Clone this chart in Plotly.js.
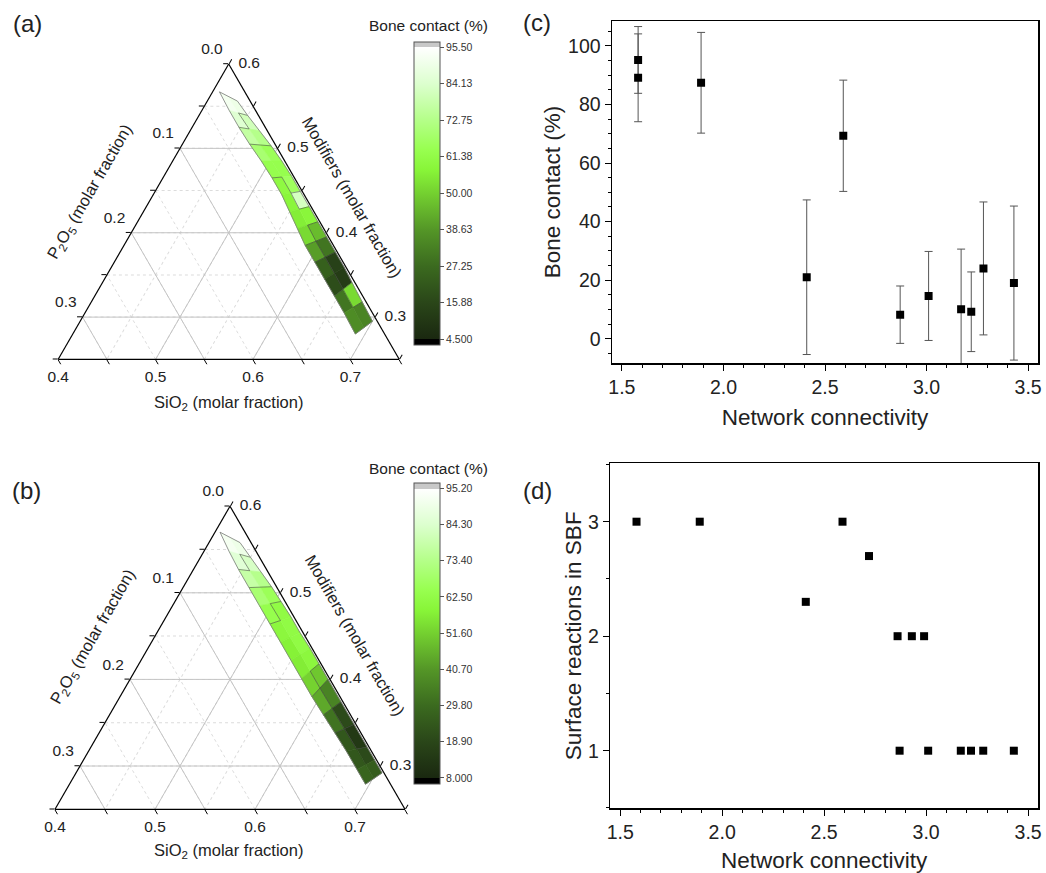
<!DOCTYPE html>
<html><head><meta charset="utf-8">
<script src="https://cdn.plot.ly/plotly-3.0.1.min.js"></script>
<style>html,body{margin:0;padding:0;background:#fff}#chart{width:1046px;height:873px}</style>
</head><body><div id="chart"></div>
<script>
// ================= DATA =================
// (c) bone contact vs network connectivity
const ncC = [1.58, 1.58, 1.89, 2.41, 2.59, 2.87, 3.01, 3.17, 3.22, 3.28, 3.43];
const boneC = [95.2, 89.1, 87.4, 21.0, 69.3, 8.2, 14.6, 10.1, 9.2, 24.0, 19.0];
const boneErr = [11.4, 15.0, 17.2, 26.4, 19.0, 9.8, 15.2, 20.5, 13.6, 22.7, 26.3];
// (d) surface reactions in SBF vs network connectivity
const ncD = [1.58, 1.89, 2.41, 2.59, 2.72, 2.86, 2.93, 2.99, 2.87, 3.01, 3.17, 3.22, 3.28, 3.43];
const sbfD = [3, 3, 2.3, 3, 2.7, 2, 2, 2, 1, 1, 1, 1, 1, 1];

// ternary ticks (axis a = Modifiers, b = P2O5, c = SiO2)
const modTicks = [0.25, 0.3, 0.35, 0.4, 0.45, 0.5, 0.55, 0.6];
const pTicks = [0, 0.05, 0.1, 0.15, 0.2, 0.25, 0.3, 0.35];
const siTicks = [0.4, 0.45, 0.5, 0.55, 0.6, 0.65, 0.7, 0.75];
const leftLabelP = [0.0, 0.1, 0.2, 0.3];      // P2O5 labels along left edge
const bottomLabelSi = [0.4, 0.5, 0.6, 0.7];   // SiO2 labels along bottom edge
const rightLabelMod = [0.6, 0.5, 0.4, 0.3];   // Modifier labels along right edge
const majorMod = [0.3, 0.4, 0.5];
const majorP = [0.1, 0.2, 0.3];
const majorSi = [0.5, 0.6, 0.7];

// (a) contour band: boundary compositions (Modifiers, P2O5) and bone contact per cell (left/right half)
const bandA_leftMod  = [0.567, 0.545, 0.525, 0.505, 0.485, 0.465, 0.445, 0.425, 0.405, 0.385, 0.365, 0.345, 0.325, 0.305, 0.280];
const bandA_leftP    = [0.026, 0.027, 0.027, 0.026, 0.024, 0.023, 0.023, 0.025, 0.027, 0.029, 0.029, 0.029, 0.029, 0.029, 0.030];
const bandA_rightMod = [0.556, 0.539, 0.521, 0.503, 0.485, 0.467, 0.449, 0.431, 0.413, 0.395, 0.377, 0.359, 0.341, 0.318, 0.295];
const bandA_rightP   = [0.013, 0.011, 0.008, 0.005, 0.003, 0.002, 0.002, 0.002, 0.002, 0.002, 0.002, 0.002, 0.003, 0.004, 0.005];
const bcA_left  = [92, 85, 77, 69, 63, 60, 58, 56, 52, 40, 24, 18, 30, 36];
const bcA_right = [90, 81, 73, 65, 63, 66, 82, 58, 46, 30, 14, 12, 52, 34];
const levelsA = [4.5, 15.88, 27.25, 38.63, 50.0, 61.38, 72.75, 84.13, 95.5];
const levelTextA = ['4.500', '15.88', '27.25', '38.63', '50.00', '61.38', '72.75', '84.13', '95.50'];

// (b) contour band
const bandB_leftMod  = [0.570, 0.548, 0.527, 0.506, 0.485, 0.464, 0.443, 0.422, 0.401, 0.380, 0.359, 0.338, 0.317, 0.296, 0.279];
const bandB_leftP    = [0.025, 0.027, 0.028, 0.028, 0.028, 0.028, 0.028, 0.028, 0.028, 0.028, 0.027, 0.026, 0.025, 0.025, 0.025];
const bandB_rightMod = [0.558, 0.541, 0.524, 0.507, 0.490, 0.472, 0.454, 0.436, 0.418, 0.400, 0.374, 0.348, 0.322, 0.307, 0.292];
const bandB_rightP   = [0.011, 0.009, 0.007, 0.005, 0.004, 0.003, 0.003, 0.002, 0.002, 0.002, 0.002, 0.002, 0.002, 0.002, 0.002];
const bcB_left  = [92, 86, 78, 70, 64, 60, 58, 57, 52, 44, 32, 24, 24, 28];
const bcB_right = [90, 83, 74, 66, 62, 62, 62, 60, 50, 36, 20, 14, 20, 26];
const levelsB = [8.0, 18.9, 29.8, 40.7, 51.6, 62.5, 73.4, 84.3, 95.2];
const levelTextB = ['8.000', '18.90', '29.80', '40.70', '51.60', '62.50', '73.40', '84.30', '95.20'];

// colour map (fraction of level range -> colour)
const mapStops = [[0, '#1a2810'], [0.125, '#2a4619'], [0.25, '#3b6a1f'], [0.375, '#549627'], [0.5, '#74d030'],
                  [0.58, '#88f538'], [0.65, '#98ff50'], [0.75, '#b4ff88'], [0.875, '#dcffce'], [1, '#ffffff']];

// ================= HELPERS =================
const FONT = 'Liberation Sans, Arial, Helvetica, sans-serif';
const W = 1046, H = 873;
const PX = x => x / W, PY = y => 1 - y / H;
const r6 = v => Math.round(v * 1e6) / 1e6;

function hex2rgb(h) { return [parseInt(h.substr(1, 2), 16), parseInt(h.substr(3, 2), 16), parseInt(h.substr(5, 2), 16)]; }
function colorAt(f) {
  f = Math.max(0, Math.min(1, f));
  for (let i = 1; i < mapStops.length; i++) {
    if (f <= mapStops[i][0]) {
      const [f0, c0] = mapStops[i - 1], [f1, c1] = mapStops[i];
      const t = (f - f0) / (f1 - f0), a = hex2rgb(c0), b = hex2rgb(c1);
      return 'rgb(' + a.map((v, k) => Math.round(v + (b[k] - v) * t)).join(',') + ')';
    }
  }
  return mapStops[mapStops.length - 1][1];
}
function extScale(start, end, cmin, cmax) {
  const tot = cmax - cmin, f0 = (start - cmin) / tot, f1 = (end - cmin) / tot;
  const s = [[0, '#000000'], [f0, '#000000']];
  mapStops.forEach(([f, c]) => s.push([f0 + f * (f1 - f0), c]));
  s.push([f1, '#c8c8c8'], [1, '#c8c8c8']);
  return s;
}
const pt = (m, p) => ({ a: r6(m), b: r6(p), c: r6(1 - m - p) });

function bandTraces(sub, lM, lP, rM, rP, vL, vR, levels, levelText, cbY, cbLen) {
  const start = levels[0], end = levels[levels.length - 1], step = levels[1] - levels[0];
  const traces = [];
  const L = lM.map((m, i) => pt(m, lP[i]));
  const R = rM.map((m, i) => pt(m, rP[i]));
  const M = L.map((l, i) => ({ a: (l.a + R[i].a) / 2, b: (l.b + R[i].b) / 2, c: (l.c + R[i].c) / 2 }));
  const poly = (pts, col) => ({
    type: 'scatterternary', subplot: sub, mode: 'lines', fill: 'toself', fillcolor: col,
    line: { color: col, width: 0.6 }, hoverinfo: 'skip', showlegend: false,
    a: pts.map(p => p.a).concat([pts[0].a]), b: pts.map(p => p.b).concat([pts[0].b]), c: pts.map(p => p.c).concat([pts[0].c])
  });
  const ca = [], cb = [], cc = [], cv = [];
  for (let i = 0; i < vL.length; i++) {
    traces.push(poly([L[i], M[i], M[i + 1], L[i + 1]], colorAt((vL[i] - start) / (end - start))));
    traces.push(poly([M[i], R[i], R[i + 1], M[i + 1]], colorAt((vR[i] - start) / (end - start))));
    const cl = { a: (L[i].a + M[i + 1].a) / 2, b: (L[i].b + M[i + 1].b) / 2, c: (L[i].c + M[i + 1].c) / 2 };
    const cr = { a: (R[i].a + M[i + 1].a) / 2, b: (R[i].b + M[i + 1].b) / 2, c: (R[i].c + M[i + 1].c) / 2 };
    ca.push(cl.a, cr.a); cb.push(cl.b, cr.b); cc.push(cl.c, cr.c); cv.push(vL[i], vR[i]);
  }
  // contour lines where the level changes
  const bin = v => Math.floor((v - start) / step);
  const la = [], lb = [], lc = [];
  const seg = (p, q) => { la.push(p.a, q.a, null); lb.push(p.b, q.b, null); lc.push(p.c, q.c, null); };
  for (let i = 0; i < vL.length; i++) {
    if (i < vL.length - 1) {
      if (bin(vL[i]) !== bin(vL[i + 1])) seg(L[i + 1], M[i + 1]);
      if (bin(vR[i]) !== bin(vR[i + 1])) seg(M[i + 1], R[i + 1]);
    }
    if (bin(vL[i]) !== bin(vR[i])) seg(M[i], M[i + 1]);
  }
  traces.push({ type: 'scatterternary', subplot: sub, mode: 'lines', a: la, b: lb, c: lc, connectgaps: false,
    line: { color: 'rgba(70,70,70,0.7)', width: 0.8 }, hoverinfo: 'skip', showlegend: false });
  // outline
  const out = L.concat(R.slice().reverse()).concat([L[0]]);
  traces.push({ type: 'scatterternary', subplot: sub, mode: 'lines', a: out.map(p => p.a), b: out.map(p => p.b), c: out.map(p => p.c),
    line: { color: '#7a7a7a', width: 0.8 }, hoverinfo: 'skip', showlegend: false });
  // colour bar carrier
  const cmin = start - 1.8, cmax = end + 1.7;
  traces.push({ type: 'scatterternary', subplot: sub, mode: 'markers', a: ca, b: cb, c: cc, hoverinfo: 'skip', showlegend: false,
    marker: { size: 1, opacity: 0, color: cv, cmin: cmin, cmax: cmax, colorscale: extScale(start, end, cmin, cmax), showscale: true,
      colorbar: { x: PX(414), xanchor: 'left', xpad: 0, ypad: 0, y: PY(cbY), yanchor: 'middle', len: cbLen, lenmode: 'pixels',
        thickness: 26, thicknessmode: 'pixels', outlinewidth: 1, outlinecolor: '#555',
        tickmode: 'array', tickvals: levels, ticktext: levelText,
        ticks: 'outside', ticklen: 4, tickcolor: '#555', tickfont: { family: FONT, size: 10.5, color: '#333' } } } });
  return traces;
}

function gridTrace(sub) {
  const a = [], b = [], c = [];
  const seg = (p, q) => { a.push(p.a, q.a, null); b.push(p.b, q.b, null); c.push(p.c, q.c, null); };
  majorMod.forEach(m => seg(pt(m, 0.6 - m), pt(m, 0)));
  majorP.forEach(p => seg(pt(0.6 - p, p), pt(0.25, p)));
  majorSi.forEach(s => seg(pt(1 - s, 0), pt(0.25, 0.75 - s)));
  return { type: 'scatterternary', subplot: sub, mode: 'lines', a, b, c, connectgaps: false,
    line: { color: '#c4c4c4', width: 1 }, hoverinfo: 'skip', showlegend: false };
}

function labelTraces(sub) {
  const mk = (pts, text, pos, size) => ({ type: 'scatterternary', subplot: sub, mode: 'markers+text', cliponaxis: false,
    a: pts.map(p => p.a), b: pts.map(p => p.b), c: pts.map(p => p.c), text, textposition: pos,
    marker: { size, opacity: 0 }, textfont: { family: FONT, size: 15.5, color: '#222' }, hoverinfo: 'skip', showlegend: false });
  return [
    mk(leftLabelP.map(p => pt(0.6 - p, p)), leftLabelP.map(v => v.toFixed(1)), 'top left', 8),
    mk(bottomLabelSi.map(s => pt(0.25, 0.75 - s)), bottomLabelSi.map(v => v.toFixed(1)), 'bottom center', 16),
    mk(rightLabelMod.map(m => pt(m, 0)), rightLabelMod.map(v => v.toFixed(1)), 'middle right', 14)
  ];
}

function ternaryLayout(dx, dy) {
  const common = { showline: true, linecolor: '#000', linewidth: 1.2, showgrid: true, gridcolor: '#dcdcdc', griddash: 'dot', gridwidth: 1,
    ticks: 'outside', ticklen: 5, tickcolor: '#000', tickmode: 'array', showticklabels: false, title: { text: '' } };
  return { domain: { x: dx, y: dy }, sum: 1, bgcolor: 'rgba(0,0,0,0)',
    aaxis: Object.assign({}, common, { min: 0.25, tickvals: modTicks }),
    baxis: Object.assign({}, common, { min: 0, tickvals: pTicks }),
    caxis: Object.assign({}, common, { min: 0.4, tickvals: siTicks }) };
}

// ================= TRACES =================
const traces = [];
traces.push(gridTrace('ternary'));
traces.push(...bandTraces('ternary', bandA_leftMod, bandA_leftP, bandA_rightMod, bandA_rightP, bcA_left, bcA_right, levelsA, levelTextA, 193.3, 303));
traces.push(...labelTraces('ternary'));
traces.push(gridTrace('ternary2'));
traces.push(...bandTraces('ternary2', bandB_leftMod, bandB_leftP, bandB_rightMod, bandB_rightP, bcB_left, bcB_right, levelsB, levelTextB, 633.3, 301));
traces.push(...labelTraces('ternary2'));

traces.push({ type: 'scatter', xaxis: 'x', yaxis: 'y', x: ncC, y: boneC, mode: 'markers', showlegend: false,
  marker: { symbol: 'square', size: 8, color: '#000' },
  error_y: { type: 'data', array: boneErr, visible: true, color: '#555', thickness: 1, width: 4 } });
traces.push({ type: 'scatter', xaxis: 'x2', yaxis: 'y2', x: ncD, y: sbfD, mode: 'markers', showlegend: false,
  marker: { symbol: 'square', size: 8, color: '#000' } });

// ================= LAYOUT =================
const xCommon = { range: [1.45, 3.55], tick0: 1.5, dtick: 0.5, tickformat: '.1f', ticks: 'outside', ticklen: 6, tickwidth: 1, tickcolor: '#000',
  minor: { dtick: 0.1, ticks: 'outside', ticklen: 3, tickcolor: '#000', showgrid: false },
  showline: true, linecolor: '#000', linewidth: 1.2, mirror: true, showgrid: false, zeroline: false,
  tickfont: { family: FONT, size: 19.5, color: '#222' },
  title: { text: 'Network connectivity', font: { family: FONT, size: 22.5, color: '#222' }, standoff: 12 } };
const yCommon = { ticks: 'outside', ticklen: 6, tickwidth: 1, tickcolor: '#000', showline: true, linecolor: '#000', linewidth: 1.2, mirror: true,
  showgrid: false, zeroline: false, tickfont: { family: FONT, size: 19.5, color: '#222' } };

const ann = [];
const A = (text, x, y, size, angle) => ann.push({ text, x: PX(x), y: PY(y), xref: 'paper', yref: 'paper', showarrow: false,
  xanchor: 'center', yanchor: 'middle', textangle: angle || 0, font: { family: FONT, size, color: '#222' } });
A('(a)', 27, 23, 24); A('(b)', 26, 490, 24); A('(c)', 537, 22, 24); A('(d)', 537, 490, 24);
A('P<sub>2</sub>O<sub>5</sub> (molar fraction)', 90, 192, 16.5, -60);
A('Modifiers (molar fraction)', 352, 197, 16.5, 60);
A('SiO<sub>2</sub> (molar fraction)', 228, 403, 16.5);
A('P<sub>2</sub>O<sub>5</sub> (molar fraction)', 93, 637, 16.5, -60);
A('Modifiers (molar fraction)', 355, 635, 16.5, 60);
A('SiO<sub>2</sub> (molar fraction)', 228, 851, 16.5);
A('Bone contact (%)', 428, 25, 15.5);
A('Bone contact (%)', 428, 468, 15.5);

const layout = {
  width: W, height: H, margin: { l: 0, r: 0, t: 0, b: 0 }, paper_bgcolor: '#fff', plot_bgcolor: '#fff', showlegend: false,
  font: { family: FONT },
  ternary: ternaryLayout([58.2 / W, 399.2 / W], [PY(359.3), PY(64)]),
  ternary2: ternaryLayout([55 / W, 405 / W], [PY(809.3), PY(506.2)]),
  xaxis: Object.assign({}, xCommon, { domain: [611.7 / W, 1038.3 / W], anchor: 'y' }),
  yaxis: Object.assign({}, yCommon, { domain: [PY(363.3), PY(20.7)], anchor: 'x', range: [-8.4, 108.6], tick0: 0, dtick: 20,
    minor: { dtick: 5, ticks: 'outside', ticklen: 3, tickcolor: '#000', showgrid: false },
    title: { text: 'Bone contact (%)', font: { family: FONT, size: 22.5, color: '#222' }, standoff: 1 } }),
  xaxis2: Object.assign({}, xCommon, { domain: [610 / W, 1038.3 / W], anchor: 'y2' }),
  yaxis2: Object.assign({}, yCommon, { domain: [PY(808.3), PY(463.3)], anchor: 'x2', range: [0.497, 3.51], tick0: 0, dtick: 1,
    minor: { dtick: 0.5, ticks: 'outside', ticklen: 3, tickcolor: '#000', showgrid: false },
    title: { text: 'Surface reactions in SBF', font: { family: FONT, size: 22.5, color: '#222' }, standoff: 0 } }),
  annotations: ann
};

Plotly.newPlot('chart', traces, layout, { staticPlot: true, displayModeBar: false });
</script></body></html>
